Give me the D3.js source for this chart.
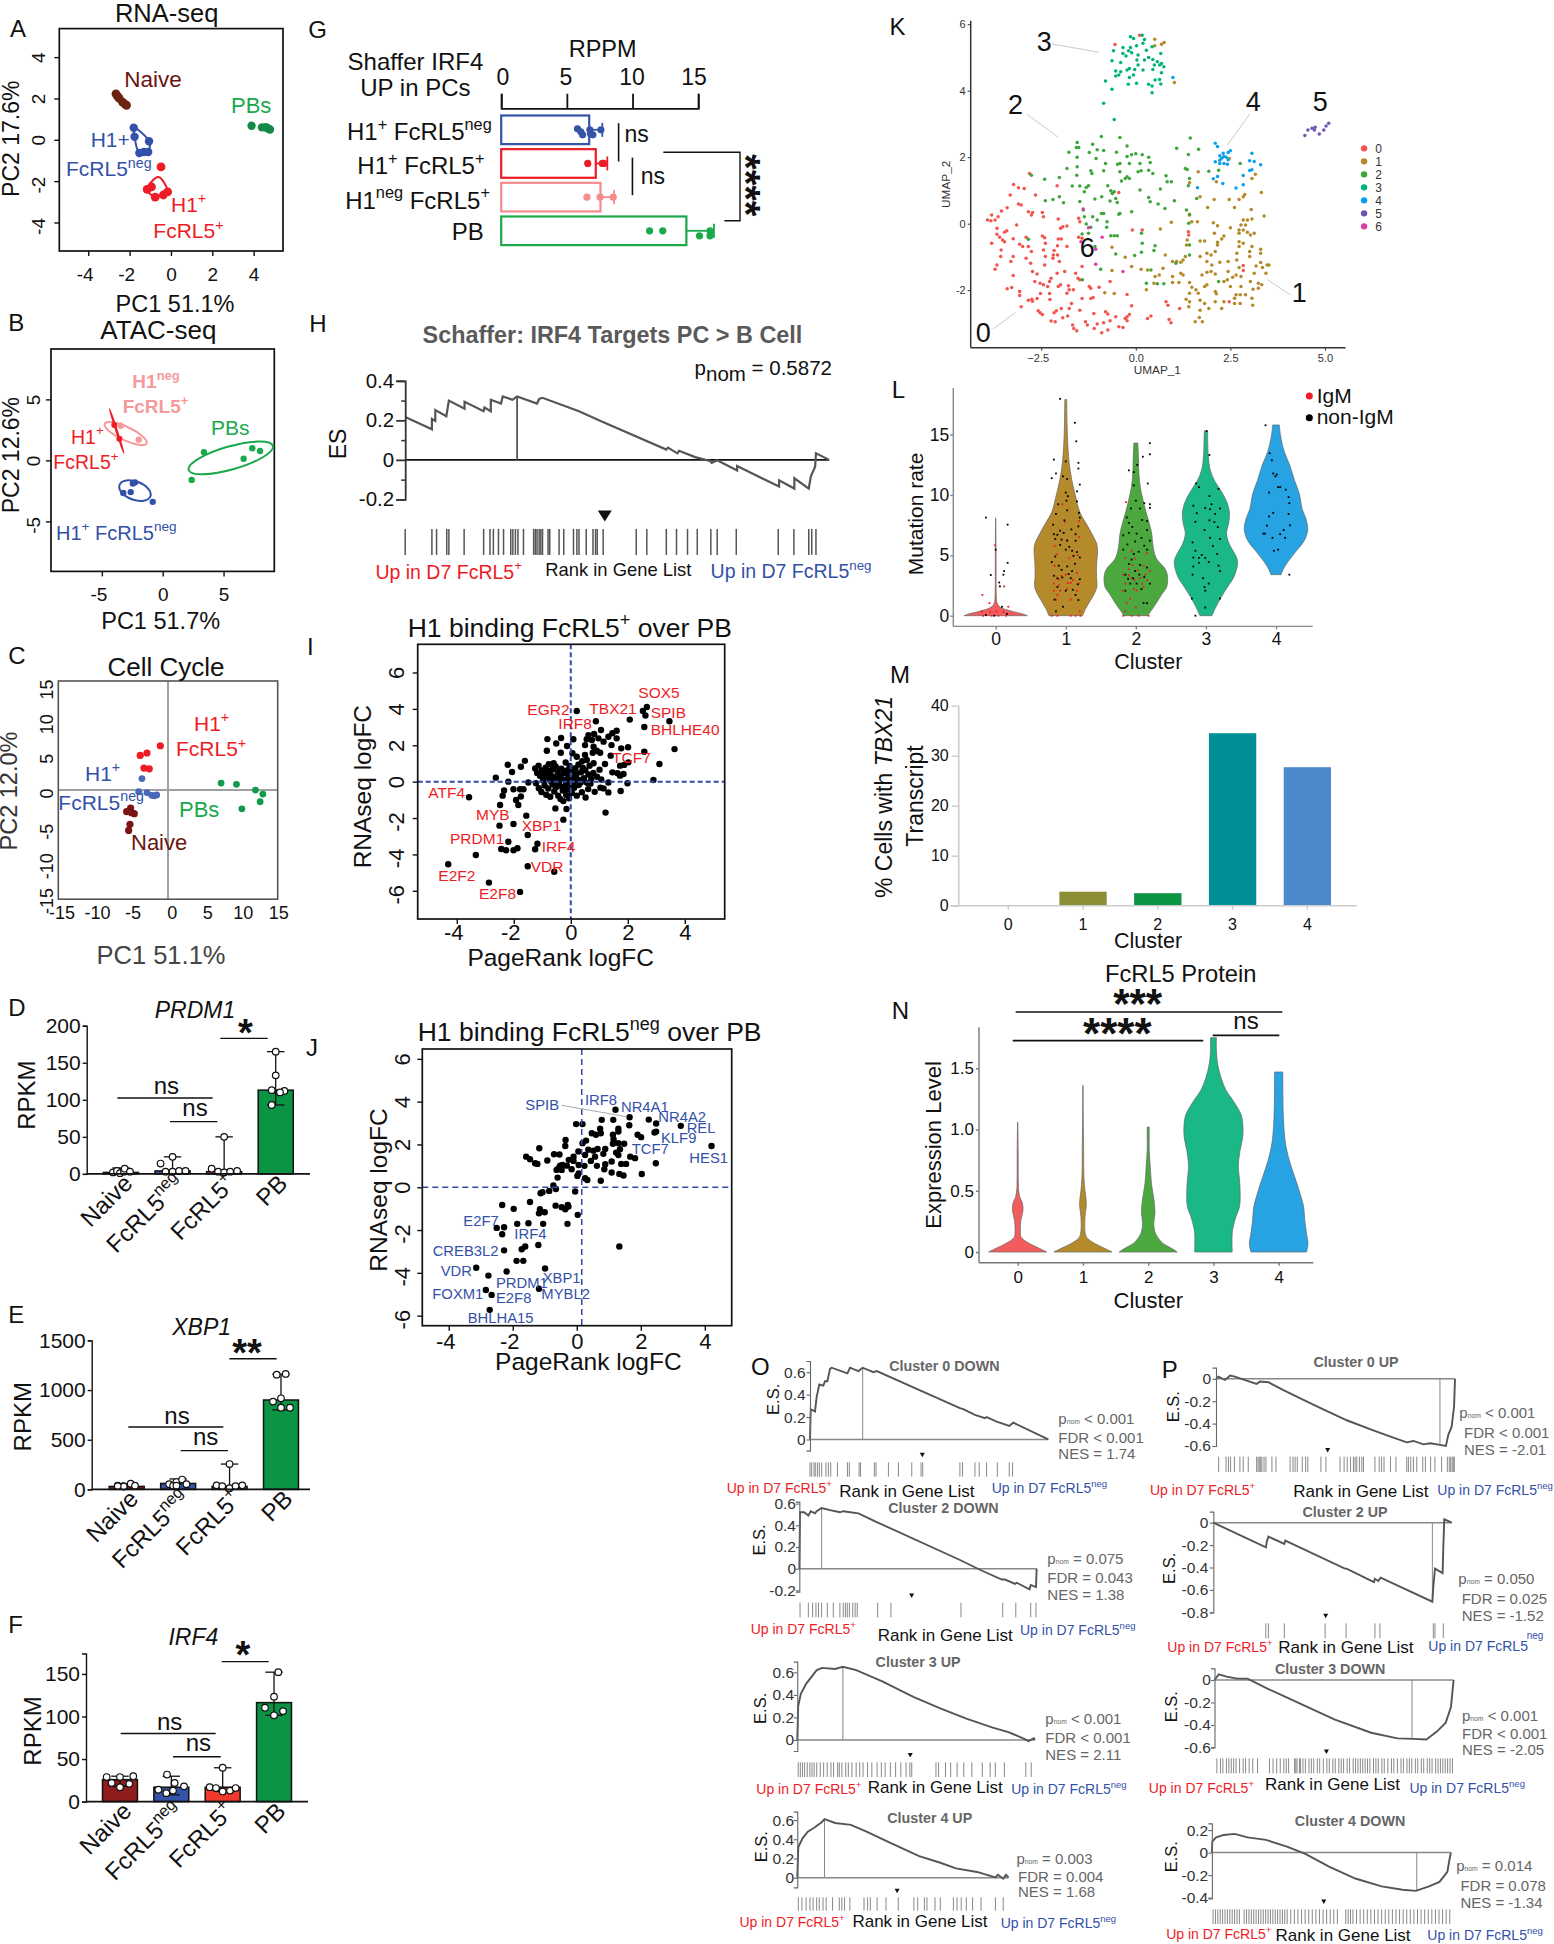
<!DOCTYPE html>
<html><head><meta charset="utf-8">
<script src="https://cdnjs.cloudflare.com/ajax/libs/d3/7.8.5/d3.min.js"></script>
<style>html,body{margin:0;padding:0;background:#fff}svg{display:block}text{font-family:"Liberation Sans",Arial,sans-serif}</style>
</head><body><script>
// ---------- DATA ----------
const aNaive=[[-2.66,2.22],[-2.58,2.1],[-2.5,2.0],[-2.34,1.82],[-2.22,1.72],[-2.15,1.67]];
const aNeg=[[-1.8,.58],[-1.76,.15],[-1.06,-.07],[-1.53,-.64],[-1.31,-.59],[-1.1,-.59]];
const aPos=[[-.48,-1.31],[-1.15,-2.4],[-.94,-2.28],[-.76,-2.77],[-.37,-2.67],[-.16,-2.52]];
const aPB=[[3.9,.68],[4.4,.6],[4.55,.6],[4.62,.6],[4.7,.55],[4.79,.5]];
const bNeg=[[-2.27,-1.8],[-3.24,-2.67],[-2.63,-2.6],[-.82,-3.4],[-2.45,-1.9]];
const bPB=[[3.39,.67],[2.38,-1.6],[7.36,1],[8,.77],[6.65,.13]];
const bH1neg=[[-3.45,2.84],[-1.97,1.7]];
const bPos=[[-3.98,2.9],[-3.56,1.77]];
const bEllipses=[[-2.28,-2.48,1.35,.75,20],[-3.04,2.2,1.9,.55,25],[5.59,.2,3.6,.95,-16],[-3.78,2.4,1.9,.04,72]];
const cPos=[[-1.05,6.1],[-3.8,4.77],[-2.88,5.1],[-3.29,3.03],[-2.56,2.92]];
const cNeg=[[-3.56,1.58],[-4.01,-.22],[-2.88,-.34],[-2.23,-.72],[-1.87,-.78],[-1.55,-.67]];
const cPB=[[7.26,.96],[9.36,.79],[11.96,0],[12.97,-.55],[12.6,-1.6],[10.1,-2.57]];
const cNaive=[[-5.66,-2.96],[-5.11,-2.46],[-4.61,-3.24],[-5.2,-4.7],[-5.38,-5.54],[-5,-3.1]];
const barCats=['Naive','FcRL5^{neg}','FcRL5^{+}','PB'];
const dMeans=[2,4,3,113],eMeans=[30,60,30,900],fMeans=[26,17,17,117];
const dDots=[[2,4,1,3,7,3],[14,3,23,3,4,4],[7,3,50,2,3,4],[113,93,165,133,112,110]];
const eDots=[[37,33,29,58,37,33],[53,37,74,37,99,53],[41,33,255,12,33,41],[1155,884,917,822,1163,822]];
const fDots=[[29,22,29,17,21,30],[14,10,32,22,13,18],[17,16,40,12,13,16],[153,124,111,107,102]];
const dErr=[[0,8],[0,23],[0,50],[93,165]],eErr=[[0,50],[0,105],[0,255],[800,1160]],fErr=[[18,30],[8,30],[12,40],[102,153]];
const gCats=['H1^{+} FcRL5^{neg}','H1^{+} FcRL5^{+}','H1^{neg} FcRL5^{+}','PB'];
const gMeans=[6.7,7.2,7.56,14.1];
const gDots=[[5.81,6.06,6.2,6.75,6.98,7.59,6.8],[6.59,7.81,7.7],[6.53,7.53,8.53],[11.3,12.3,15.1,15.9,15.9]];
const gEnds=[7.7,8.08,8.6,16.2];
const hCurve=[[0,.217],[6.3,.155],[6.3,.207],[7.1,.197],[7.1,.252],[9.7,.221],[10.3,.3],[14,.259],[14,.294],[18.5,.246],[18.7,.265],[20.2,.246],[20.2,.304],[22.6,.285],[23,.321],[25.3,.304],[26.4,.321],[31.1,.285],[31.6,.308],[32.4,.314],[41,.246],[46.1,.197],[61.6,.052],[62,.062],[64.2,.033],[64.6,.046],[68.4,.014],[71.9,-.006],[72.3,-.015],[73.6,-.002],[78.3,-.054],[78.3,-.031],[88.2,-.135],[88.2,-.103],[91.8,-.145],[91.8,-.093],[95.2,-.145],[95.7,-.083],[96.7,-.035],[96.9,.033],[100,0]];
const hRug=[0,6.3,7.4,9.8,10.3,13.9,18.5,20,20.8,22,23.2,24.9,25.4,26,26.6,27.9,30.3,30.7,31.1,31.6,32,32.4,33.7,34.1,36.3,37.4,39.7,40.5,41,42.7,44.3,44.9,45.3,46.7,54.5,57,61.6,64,66.6,68.9,72.1,73.6,78.1,88,91.7,95.2,95.9,96.9];
const iPoints=[[2.67,4.1],[2.53,3.88],[2.62,3.64],[3.46,3.32],[2.58,3],[3.64,1.79],[3.11,.97],[2.9,.09],[2.07,3.41],[.21,3.88],[.88,3.32],[-.82,2.34],[-.34,2.4],[-.51,2.1],[-.84,1.7],[-.13,1.96],[.09,2.33],[-.35,1.59],[.06,1.56],[-3.57,-.86],[-2.63,.22],[-2.21,.93],[-2.06,.53],[-2.19,0],[-1.75,.82],[-1.61,1.14],[-2.34,-.49],[-2.39,-.77],[-2.48,-1.28],[-2.01,-.42],[-1.78,-.42],[-1.66,-.42],[-1.75,-.82],[-1.92,-1.01],[-1.84,-1.28],[-1.49,-.05],[-1.56,-1.87],[-2.5,-2.42],[-2.01,-2.33],[-1.51,-2.93],[-2.19,-3.3],[-1.17,-3.41],[-1.25,-3.72],[-2.44,-3.7],[-2.27,-3.77],[-2.01,-3.77],[-1.87,-3.66],[-3.33,-4.03],[-4.3,-4.54],[-2.87,-5.55],[-1.78,-6.06],[-1.51,-4.65],[-.58,-4.95],[-.54,-1.47],[-.15,-1.5],[-.26,-2.09],[1.22,-1.7],[.62,2.56],[.82,2.62],[1.06,2.84],[1.61,2.8],[1.46,2.66],[1.32,2.47],[1.61,2.38],[.56,2.33],[.74,2.29],[.97,2.38],[1.15,2.2],[1.43,2.01],[1.77,1.83],[2.01,1.89],[2.58,1.65],[.8,1.92],[.5,2.01],[.91,1.7],[.77,1.59],[1.4,1.43],[.5,1.47],[1.03,1.59],[.21,1.37],[.56,1.19],[.8,1.01],[1.2,.97],[1.73,.88],[2.02,1.06],[1.87,.92],[1.46,.51],[1.64,.46],[1.85,.42],[1.73,.33],[1.99,-.09],[1.75,-.51],[1.32,-.05],[1.15,-.37],[1.32,-.59],
[-1.25,.72],[-1.18,.48],[-1.13,.88],[-1.08,.33],[-1.02,.62],[-.98,.18],[-.93,.44],[-.88,.77],[-.84,.29],[-.78,.57],[-.73,.13],[-.71,.41],[-.64,.68],[-.59,.24],[-.53,.83],[-.49,.06],[-.46,.52],[-.38,.28],[-.33,.71],[-.29,.14],[-.24,.47],[-.21,.59],[-.14,.09],[-.09,.36],[-.04,.86],[.02,.21],[.06,.57],[.11,.04],[.16,.74],[.19,.31],[.27,.94],[.32,.08],[.36,.52],[.42,.77],[.46,.19],[.51,.63],[.57,-.06],[.62,.39],[.66,.87],[.72,.16],[.79,.48],[.92,.27],[1.01,.66],[1.07,.12],
[-1.22,-.09],[-1.12,-.36],[-1.03,-.57],[-.92,-.21],[-.86,-.72],[-.79,-.38],[-.72,-.83],[-.63,-.16],[-.58,-.54],[-.52,-.31],[-.44,-.77],[-.41,-.11],[-.36,-.96],[-.28,-.49],[-.26,-1.07],[-.19,-.24],[-.16,-.74],[-.11,-.44],[-.06,-.91],[.01,-.16],[.04,-.62],[.12,-.34],[.21,-.77],[.28,-.19],[.39,-.58],[.52,-.87],[.61,-.41],[.69,-.11],[.84,-.56],[1.04,-.33],[-.95,.05],[-.68,-.02],[-.41,.02],[-.17,.0],[.08,-.08],[.35,-.04],[-.77,.96],[-.6,1.02],[-.18,1.05],[.4,1.12],[-.3,-.3],[-.55,-.03],[.17,.44],[-.1,.63]];
const iGenes=['SOX5','EGR2','TBX21','SPIB','IRF8','BHLHE40','TCF7','ATF4','MYB','XBP1','PRDM1','IRF4','VDR','E2F2','E2F8'];
const jPoints=[[1.21,3.62],[1.65,3.27],[2.25,3.16],[2.48,2.98],[3.25,2.87],[1.64,2.9],[.78,3.15],[1.14,3.15],[-.02,2.95],[.18,2.95],[.73,2.73],[.47,2.52],[.6,2.45],[.75,2.52],[1.3,2.73],[1.3,2.6],[1.13,2.45],[1.15,2.24],[1.9,2.45],[2.01,2.34],[2.43,2.56],[2.48,2.6],[-.35,2.21],[-.36,1.93],[.29,2.18],[.18,2.06],[-1.17,1.82],[4.21,1.93],[1.13,2.03],[1.3,2.06],[1.48,2.03],[1.35,1.78],[1.23,1.62],[.65,1.79],[.89,1.79],[.36,1.75],[.05,1.67],[.52,1.71],[.26,1.51],[.83,1.56],[.57,1.43],[1.67,1.43],[1.82,1.36],[1.3,1.51],[-1.58,1.43],[-1.46,1.31],[-1.3,1.12],[-1.23,1.09],[-.92,1.25],[-.71,1.54],[-.54,1.53],[-.1,1.43],[-.25,1.28],[-.1,1.23],[-.63,.81],[-.52,1.01],[-.44,1.04],[-.31,1.01],[-.16,.84],[-.57,.89],[-.47,.81],[.06,1.04],[.24,1],[.44,1.23],[.63,1],[.89,1.08],[1.09,1.2],[1.39,1.09],[1.54,1.09],[2.47,1.12],[.86,.84],[1.09,.69],[1.33,.62],[1.46,.55],[2.03,.62],[.06,.65],[.02,.53],[.26,.42],[.33,.34],[.75,.3],[-.6,.45],[-.73,.08],[-.65,-.08],[-.86,-.17],[-1.07,-.23],[-1.13,-.28],[-.05,-.2],[-1.46,-.69],[-2.33,-.83],[-1.97,-1.01],[-.66,-.86],[-.47,-.93],[-.28,-.83],[-.26,-.9],[-.36,-1.03],[-1.15,-1.03],[-1,-1.17],[-1.18,-1.22],[.03,-1.29],[-1.51,-1.68],[-1.05,-1.71],[-1.86,-1.71],[-.29,-1.71],[-2.5,-1.9],[-2.27,-1.87],[-2.33,-2.2],[-1.2,-2.7],[-1.61,-2.77],[-1.72,-2.9],[-2.27,-2.95],[-1.88,-3.44],[-1.67,-3.44],[1.33,-2.77],[-3.14,-3.76],[-2.19,-3.94],[-.99,-3.8],[-2.76,-4.13],[-2.84,-4.8],[-1.18,-4.74],[-2.66,-5.03],[-2.72,-5.73]];
const jGenes=['SPIB','IRF8','NR4A1','NR4A2','REL','KLF9','TCF7','HES1','E2F7','IRF4','CREB3L2','VDR','PRDM1','XBP1','FOXM1','E2F8','MYBL2','BHLHA15'];
const k0=[[-3.92,.11],[-3.81,.26],[-3.83,.09],[-3.72,.11],[-3.64,.21],[-3.55,.38],[-3.4,.48],[-3.32,.86],[-3.23,1.18],[-3.1,1.08],[-2.95,1.06],[-3.1,.59],[-3.03,.56],[-2.81,1.51],[-2.65,.86],[-2.08,1.14],[-2.84,.36],[-2.73,.34],[-2.76,.26],[-2.47,.34],[-2.44,.21],[-2.05,.14],[-1.93,-.09],[-1.99,-.14],[-1.82,-.07],[-1.51,.16],[-1.48,.06],[-3.67,-.14],[-3.67,-.32],[-3.6,-.41],[-3.52,-.49],[-3.47,-.26],[-3.41,-.21],[-3.81,-.59],[-3.47,-.54],[-3.56,-.79],[-3.57,-.99],[-3.67,-1.24],[-3.72,-1.37],[-3.24,-.45],[-3.15,-.04],[-3.07,-.62],[-2.99,-.69],[-3.24,-.99],[-3.3,-1.14],[-3.24,-1.56],[-2.9,-.41],[-2.84,-.69],[-2.76,-.84],[-2.9,-1.04],[-2.78,-1.19],[-2.73,-1.44],[-2.61,-1.51],[-2.67,-1.74],[-2.47,-.37],[-2.41,-.42],[-2.39,-.59],[-2.44,-.79],[-2.39,-.99],[-2.41,-1.24],[-2.53,-1.79],[-2.44,-1.84],[-2.28,-1.74],[-2.33,-1.89],[-2.05,-.46],[-1.97,-.46],[-2.07,-.66],[-2.16,-.81],[-2.18,-.94],[-2.07,-.94],[-2.19,-1.04],[-2.02,-1.14],[-2.08,-1.49],[-1.88,-1.44],[-2.24,-1.64],[-2.05,-1.89],[-1.82,-.69],[-1.51,-.41],[-1.42,-.44],[-1.42,-1.29],[-1.59,-1.49],[-1.53,-1.64],[-1.48,-1.69],[-1.99,-1.84],[-1.78,-1.87],[-1.76,-1.99],[-1.82,-2.09],[-1.65,-1.99],[-1.23,-1.89],[-1.19,-1.94],[-.97,-1.91],[-.68,-1.74],[-3.4,-1.96],[-3.28,-1.92],[-3.07,-2.04],[-3.07,-2.16],[-3.03,-2.5],[-2.84,-2.3],[-2.75,-2.27],[-2.73,-2.33],[-2.61,-2.25],[-2.52,-2.1],[-2.28,-2.1],[-2.27,-2.28],[-2.58,-2.62],[-2.53,-2.68],[-2.47,-2.73],[-2.16,-2.68],[-2.1,-2.62],[-1.97,-2.55],[-1.76,-2.55],[-2.24,-2.93],[-2.13,-2.95],[-1.93,-2.83],[-1.8,-2.78],[-1.7,-2.4],[-1.48,-2.6],[-1.42,-2.25],[-1.19,-2.25],[-1.13,-2.22],[-1.67,-3.05],[-1.64,-3.15],[-1.56,-3.22],[-1.33,-2.95],[-1.28,-3.05],[-1.11,-2.7],[-1.1,-3.15],[-1.02,-3.02],[-.9,-3.28],[-.85,-2.98],[-.74,-3.2],[-.8,-2.65],[-.74,-2.72],[-.53,-2.8],[-.68,-2.92],[-.45,-3.1],[-.34,-3.12],[-.28,-2.85],[-.23,-2.8],[-.17,-2.73],[-.23,-2.92],[-.11,-2.47],[-.23,-2.13],[.31,-2.85],[.4,-2.78],[.88,-2.88],[.93,-2.98],[.8,-2.35],[.85,-2.45],[1.16,-2.55],[1.39,-.24],[1.4,-.34],[-.09,-.19],[.17,-.19],[-.45,.94],[2.84,-1.26],[2.84,-1.41],[2.47,-2.35],[-.55,5.39],[.1,5.67]];
const k1=[[1.65,1.56],[1.42,1.23],[1.7,.81],[1.9,.49],[2.07,.73],[2.13,1.26],[2.47,.73],[2.61,.49],[2.73,.73],[2.84,.81],[2.88,.88],[3.32,.94],[3.16,1.49],[3.07,1.36],[2.47,1.96],[1.42,.28],[1.48,.06],[1.63,.06],[.94,.04],[.65,-.16],[2.05,.03],[2.16,-.06],[2.84,.11],[2.95,.11],[3.07,.14],[3.05,.43],[3.39,.23],[2.78,-.04],[2.9,-.04],[2.5,-.12],[2.73,-.19],[2.84,-.19],[2.73,-.29],[2.95,-.26],[3.13,-.29],[3.03,-.34],[2.33,-.37],[2.27,-.46],[2.08,-.29],[2.16,-.56],[1.7,-.52],[1.82,-.52],[1.36,-.49],[1.34,-.64],[2.73,-.54],[2.84,-.59],[2.16,-.64],[3.07,-.69],[2.73,-.69],[3.3,-.77],[3.3,-.89],[3.01,-.84],[2.1,-.84],[1.88,-.89],[1.99,-.94],[2.67,-.89],[3.01,-.99],[1.7,-.99],[1.31,-.99],[1.25,-1.09],[.78,-.94],[.97,-1.14],[1.08,-1.14],[1.19,-1.16],[1.88,-1.14],[2.01,-1.24],[2.22,-1.16],[2.44,-1.14],[2.67,-1.09],[2.73,-1.32],[3.3,-1.17],[3.47,-1.24],[3.52,-1.24],[3.18,-1.27],[3.35,-1.32],[2.44,-1.44],[1.99,-1.44],[1.88,-1.46],[1.75,-1.54],[2.1,-1.51],[2.56,-1.61],[2.65,-1.54],[2.78,-1.59],[3.13,-1.49],[3.44,-1.49],[1.19,-1.49],[1.25,-1.54],[.62,-1.54],[.72,-1.34],[.51,-1.59],[.48,-1.79],[.28,-1.99],[.97,-1.59],[.97,-1.77],[1.14,-1.77],[1.42,-1.77],[1.48,-1.91],[1.59,-1.99],[1.82,-1.89],[1.88,-1.84],[2.1,-2.04],[2.13,-2.11],[2.33,-1.74],[2.42,-1.69],[2.5,-1.89],[2.78,-1.89],[3.03,-1.74],[3.24,-1.79],[3.33,-1.84],[3.24,-1.94],[3.1,-1.97],[2.9,-2.14],[3.07,-2.24],[2.76,-2.14],[2.61,-2.24],[2.65,-2.14],[1.42,-2.09],[1.33,-2.27],[1.42,-2.35],[1.4,-2.5],[1.65,-2.09],[1.7,-2.3],[1.82,-2.4],[1.7,-2.6],[1.93,-2.55],[2.1,-2.35],[2.27,-2.55],[2.33,-2.35],[2.61,-2.4],[2.76,-2.4],[3.09,-2.45],[1.68,-2.82],[1.76,-2.95],[1.57,-2.95],[-.57,-2.1],[-.82,-2.08],[-.28,-1.01],[-.11,-1.29],[.14,-1.37],[.31,-1.39],[-.63,-1.41],[-.63,-.71],[.5,5.55],[.75,5.45],[.5,5.35],[.68,5.4],[1.02,4.25]];
const k2=[[-2.76,1.46],[-2.41,1.34],[-2.02,1.39],[-2.39,.69],[-2.19,.73],[-2.02,.81],[-1.91,.63],[-1.82,1.66],[-1.77,2.15],[-1.55,2.44],[-1.57,2.29],[-1.51,2.29],[-1.55,2],[-1.55,1.71],[-1.56,1.46],[-1.68,1.13],[-1.48,1.13],[-1.23,2.14],[-1.14,2.39],[-1.02,2.22],[-.91,2.62],[-.85,2.2],[-.42,2.59],[-.51,2.15],[-.23,2.34],[-1.05,1.96],[-.8,1.81],[-1.19,1.59],[-1.16,1.51],[-.85,1.59],[-.48,1.79],[-.42,1.81],[-.42,1.56],[-.23,2.02],[-.11,2.07],[0,2.1],[.17,2.07],[.34,2],[-.17,1.81],[.11,1.81],[.38,1.84],[.06,1.56],[.14,1.59],[.34,1.61],[.45,1.51],[-.23,1.41],[-.38,1.28],[-.28,1.36],[-.17,1.36],[.8,1.44],[.83,1.26],[.94,1.26],[.65,1.04],[.11,1.01],[1.08,2.27],[1.44,2.58],[1.66,2.24],[1.39,2.08],[1.31,1.66],[1.36,1.63],[1.42,1.36],[1.39,1.14],[1.61,.76],[1.93,1.58],[2.19,1.61],[2.76,1.81],[-1.31,1.09],[-1.36,.96],[-1.25,1.14],[-1.48,.67],[-1.08,.74],[-.9,.81],[-.74,1.14],[-.66,.99],[-.62,.91],[-.57,.96],[-.53,.76],[-.68,.68],[-.49,.64],[-1.39,.41],[-1.14,.21],[-1.36,.21],[-.91,.31],[-.85,.31],[-.45,.28],[-.42,.31],[-.11,.36],[.34,.79],[.38,.66],[.59,.59],[.77,.46],[1.02,.69],[1.34,.41],[1.42,.26],[1.4,.01],[-.76,.06],[-.77,-.11],[-1.02,.11],[-1.31,-.01],[-1.19,-.11],[-1.42,-.31],[-1.25,-.29],[-.66,-.36],[-.57,-.36],[-.49,-.36],[.15,-.29],[.17,-.59],[.51,-.66],[.48,-.81],[.15,-.86],[-.03,-.96],[-.53,-.91],[-1.08,-.69],[-.93,-1.37],[-1.41,-1.69],[-2.84,-.47],[.28,-1.79],[.57,-1.81],[.74,-1.81],[2.19,-1.74],[1.06,-1.19],[.4,-1.39],[1.42,-.64],[1.42,-.94]];
const k3=[[-.14,5.62],[-.06,5.57],[.17,5.67],[.23,5.54],[.02,5.35],[.19,5.43],[-.34,5.3],[-.14,5.3],[-.19,5.2],[.28,5.22],[.43,5.32],[.66,5.12],[-.59,5.2],[-.34,5.12],[-.11,5.14],[.06,5.07],[-.26,5.04],[.03,4.92],[.23,4.92],[.34,5],[.45,4.94],[.57,4.87],[.68,4.82],[.74,4.72],[.63,4.77],[-.63,4.9],[-.4,4.85],[-.17,4.67],[-.03,4.64],[.06,4.77],[.19,4.62],[.45,4.64],[.68,4.54],[-.53,4.59],[-.45,4.47],[-.23,4.62],[-.17,4.4],[-.06,4.47],[.51,4.32],[.63,4.34],[.02,4.22],[-.2,4.19],[.34,4.19],[.43,4.14],[.66,4.2],[.43,3.94],[-.8,4.29],[-.63,4.04],[-.85,3.62],[-.57,3.13],[-.53,4.44],[-.4,4.57],[.49,4.77]];
const k4=[[2.1,2.42],[2.16,2.32],[2.5,2.19],[2.44,2.14],[2.31,2.12],[2.22,2.04],[2.33,2.02],[2.1,1.86],[2.22,1.81],[2.33,1.81],[2.44,1.92],[2.42,1.79],[2.27,1.97],[3.07,2.12],[3.01,1.89],[3.13,1.87],[3.3,1.77],[3.07,1.62],[3.01,1.6],[2.05,1.35],[2.16,1.42],[2.3,1.21],[2.84,1.45],[2.84,1.17],[2.65,1.07],[1.63,1.08],[2.39,2],[2.22,1.91],[.98,4.4]];
const k5=[[4.47,2.65],[4.55,2.82],[4.66,2.87],[4.74,2.9],[4.85,2.7],[4.97,2.82],[5.03,2.94],[5.1,3.02],[4.72,2.82]];
const k6=[[-1.39,.44],[-1.25,-.12],[-.89,-.41],[-1.45,-.54],[-1.06,-.77],[-1.06,-1.22],[-.34,-1.44]];
const kClusters=[k0,k1,k2,k3,k4,k5,k6];
const kNames=['0','1','2','3','4','5','6'];
const lViolins=[
[[0,1],[.15,.85],[.3,.6],[.44,.42],[.6,.22],[.8,.1],[1.1,.04],[2,.016],[4,.013],[6,.01],[8.1,.004]],
[[0,.53],[.59,.63],[1.18,.76],[1.78,.89],[2.37,.98],[3.25,.97],[4.14,.97],[5.33,1],[5.92,.98],[6.8,.82],[7.69,.63],[8.58,.44],[9.76,.32],[11.24,.19],[12.72,.105],[14.2,.063],[15.98,.04],[17.9,.03]],
[[0,.37],[.59,.53],[1.18,.68],[1.78,.82],[2.37,.97],[3.25,1],[3.85,.93],[4.73,.65],[5.62,.55],[6.8,.5],[7.69,.42],[8.58,.32],[9.76,.21],[10.65,.14],[11.83,.095],[13,.084],[14.3,.063]],
[[0,.19],[.59,.29],[1.48,.47],[2.37,.68],[3.25,.89],[4.44,1],[5.03,.93],[5.92,.74],[6.8,.65],[7.69,.72],[8.58,.74],[9.47,.65],[10.36,.47],[11.24,.26],[12.13,.13],[13.3,.074],[15.3,.053]],
[[3.4,.16],[3.85,.23],[4.44,.37],[5.33,.63],[6.21,.89],[7.1,1],[7.99,.95],[8.88,.82],[10.06,.74],[11.24,.58],[12.43,.44],[13.6,.26],[14.8,.15],[15.8,.105]]];
const lBlack=[
[[-.14,8.13],[.17,7.54],[0,5.47],[-.07,3.37],[.11,3.4],[.12,3.7],[.17,4.38],[.05,2.75],[.06,2.43],[-.14,.06],[-.02,0],[.16,.15],[.09,.74]],
[[-.08,17.96],[.13,15.98],[.15,14.44],[0,12.78],[-.17,12.93],[.18,12.66],[.18,12.19],[-.14,11.78],[-.2,11.39],[-.04,11.54],[.02,11.33],[.2,10.86],[.16,10.3],[0,10.2],[.03,9.9],[.16,9.47],[-.11,9.23],[.01,9.53],[-.14,8.43],[.19,8.52],[.02,8.73],[.2,8.13],[-.18,7.54],[.18,7.4],[-.08,7.04],[-.03,6.86],[-.17,6.75],[-.15,6.36],[.02,6.21],[.14,6.21],[-.08,5.86],[0,5.47],[.09,5.38],[.16,5.27],[.2,4.82],[-.2,4.44],[-.1,4.14],[.02,4.08],[.09,3.7],[-.17,3.31],[-.05,3.17],[.07,3.11],[.2,3.02],[-.12,2.37],[0,2.07],[.14,1.72],[-.16,1.33],[-.04,.74],[-.14,.36],[-.12,6.7],[-.06,6.3],[.05,5.7],[.11,4.95],[-.15,4.9],[.13,4.3],[-.06,3.8],[.04,3.45],[-.12,3.1],[.17,2.6],[.1,2.15],[.18,1.3],[-.02,7.9],[.08,7.15],[.14,6.75]],
[[.2,14.29],[.2,13.37],[.1,13.17],[-.1,12.04],[-.03,11.89],[.02,12.49],[.17,10.95],[-.03,10.8],[0,9.53],[.12,9.32],[.2,8.93],[.2,9.23],[-.07,8.88],[.06,8.88],[-.13,8.14],[-.1,7.69],[.09,7.93],[.16,7.84],[-.18,6.66],[-.1,6.86],[.01,6.8],[.16,7.1],[-.01,6.15],[.2,6.21],[-.18,5.47],[-.03,5.12],[.16,5.47],[-.1,4.29],[.06,4.2],[-.01,3.7],[.16,3.99],[-.15,3.4],[.05,3.4],[.2,2.66],[-.08,2.66],[.01,2.66],[.11,1.04],[.16,1.04],[-.15,2.07],[-.05,7.35],[.08,6.45],[.12,5.8],[-.12,5.9],[.04,5.3],[-.06,4.65],[.12,3.2],[-.11,3.05],[.08,2.2],[-.04,3.1]],
[[.01,15.3],[.05,13.31],[-.14,10.95],[-.1,10.65],[.18,10.5],[.05,9.91],[-.18,9.11],[-.01,8.93],[.08,9.23],[.06,8.82],[.2,8.88],[-.13,8.49],[.13,8.43],[-.15,7.78],[.05,7.9],[.12,7.75],[.17,7.34],[-.02,7.1],[.06,6.45],[.2,6.36],[-.19,6.07],[.1,5.77],[-.15,5.38],[-.18,4.82],[-.06,5.03],[.16,5.12],[-.1,4.79],[-.01,4.79],[-.18,4.08],[-.1,4.38],[.04,4.44],[.18,4.14],[.2,3.7],[-.19,3.4],[-.04,3.11],[.04,2.66],[-.02,2.37],[-.01,2.07],[-.2,1.42],[.2,1.42],[-.01,.68],[-.15,0]],
[[-.15,15.77],[-.09,13.46],[-.06,12.87],[-.04,11.78],[.01,11.69],[-.01,11.54],[.03,10.65],[-.1,10.2],[.06,10.65],[.14,10.44],[.18,9.82],[.19,9.32],[-.04,8.52],[-.1,8.22],[.18,8.43],[-.13,7.46],[.2,7.49],[.11,7.1],[-.18,6.8],[-.16,6.8],[.06,6.75],[-.05,6.45],[.13,6.45],[-.03,5.38],[.03,5.47],[.19,3.4]]];
const lRed=[
[[-.01,5.83],[-.19,1.72],[.12,2.43],[-.09,1.04],[.18,.74],[-.2,.36],[-.08,.3],[.01,.36],[.11,.3],[.15,0],[-.18,0],[-.06,0],[.04,0]],
[[-.05,9.23],[-.01,7.75],[.19,7.84],[-.16,5.77],[.02,6.27],[.19,6.5],[.17,5.03],[-.16,4.14],[-.1,3.02],[.16,3.55],[0,3.4],[-.17,2.66],[-.1,2.51],[.07,2.72],[.19,2.66],[-.08,2.07],[.02,2.22],[.16,2.07],[-.17,2.07],[-.14,1.33],[.07,1.33],[.2,.36],[-.2,0],[-.12,0],[.07,0],[.14,0],[.21,0],[-.13,5.1],[.05,4.75],[-.06,3.3],[.1,2.95],[.03,2.7],[-.12,1.7]],
[[-.14,9.41],[-.06,5.38],[.16,5.18],[-.15,4.79],[-.01,4.73],[.11,4.14],[-.1,3.85],[.2,3.7],[-.18,3.4],[-.06,3.11],[.06,3.11],[.16,2.96],[-.15,2.66],[-.03,2.22],[.11,2.37],[-.19,2.07],[.01,2.07],[-.08,1.42],[-.13,1.04],[0,.68],[-.15,.36],[-.18,0],[-.06,0],[.04,0],[.18,0],[-.1,3.35],[.03,3.75],[.13,3.4],[-.02,2.95],[.09,2.65],[-.05,4.2]],
[],[]];
const clusterCats=[0,1,2,3,4];
const mValues=[0,2.8,2.5,34.5,27.7];
const nViolins=[
[[0,.99],[.03,.74],[.07,.4],[.1,.2],[.125,.11],[.18,.09],[.26,.11],[.34,.18],[.4,.16],[.45,.07],[.5,.035],[.56,.023],[.83,.017],[1.06,.006]],
[[0,.99],[.03,.74],[.07,.4],[.11,.16],[.15,.08],[.29,.07],[.37,.11],[.42,.11],[.5,.07],[.61,.035],[.83,.023],[1.1,.011],[1.36,.006]],
[[0,.99],[.03,.8],[.07,.51],[.125,.31],[.165,.23],[.23,.19],[.32,.23],[.42,.2],[.56,.11],[.7,.07],[.83,.035],[.94,.035],[1.02,.034]],
[[0,.64],[.15,.64],[.21,.68],[.29,.77],[.37,.89],[.5,.91],[.59,.89],[.7,.85],[.83,.91],[.94,1],[1.05,1],[1.13,.93],[1.24,.66],[1.32,.43],[1.43,.25],[1.54,.14],[1.65,.1],[1.75,.1]],
[[0,.95],[.07,1],[.15,.95],[.26,.89],[.37,.85],[.5,.7],[.61,.55],[.75,.36],[.89,.23],[1.1,.16],[1.47,.14]]];
const o1Curve=[[0,0],[.3,.27],[2.1,.25],[2.8,.38],[3.9,.49],[5.6,.48],[6.3,.52],[7.3,.52],[8.4,.63],[9.1,.64],[15.7,.59],[16.8,.64],[20.3,.61],[22.1,.64],[26.6,.6],[28,.61],[62.9,.28],[64.3,.27],[69.2,.22],[73.4,.19],[74.1,.2],[78.3,.16],[83.6,.12],[85.3,.15],[100,0]];
const o1Rug=[0,.7,1.7,2.2,3.1,3.9,4.9,6.7,7.7,8.7,11.5,15.7,16.5,20.6,21.2,27,27.7,32.9,37.1,42.7,46.6,47.3,62.9,64,69.2,71,74.1,78.6,83.6,85];
const o2Curve=[[0,0],[.3,.52],[2,.52],[3.8,.49],[4.8,.53],[6.6,.51],[7.3,.53],[9.4,.56],[12.9,.54],[17.1,.52],[18.5,.53],[24.9,.51],[32.6,.43],[67.7,.08],[76.1,-.01],[85.3,-.1],[86.7,-.1],[90.9,-.14],[91.6,-.13],[97,-.19],[97.5,-.15],[99.7,-.17],[100,0]];
const o2Rug=[.3,3.8,5.6,7,8.1,9.4,11.8,14.3,17.1,18.5,19.4,20.2,21.1,22.5,23.5,24.4,33,38.6,68.1,85.7,91.2,97.5,99.7];
const o3Curve=[[0,0],[.4,.3],[1.5,.41],[3.8,.5],[6,.56],[8.2,.62],[10.4,.64],[15.9,.63],[19.2,.65],[24.8,.62],[35.8,.52],[49.1,.38],[60.2,.28],[71.2,.19],[82.3,.11],[88.9,.07],[95.6,.01],[97.3,-.01],[99.6,.015],[100,0]];
const o3Rug=[.4,1.3,2.2,3.1,4.2,5.3,6.2,7.1,8.2,9.7,11.1,12.6,14.2,15.3,17,17.7,18.8,20.4,21.5,23,24.8,26.3,27.7,29.6,31.4,33.6,35.4,37,39.2,41.4,43.6,45.8,47.4,48.2,58.4,59.5,62.4,64.6,67.3,70.1,73.5,77.9,81.2,83.4,87.2,96.2,98.5];
const o4Curve=[[0,0],[.5,.32],[2.5,.41],[5,.48],[8,.52],[11.7,.58],[12.9,.61],[17.9,.57],[25.4,.55],[32.8,.48],[42.8,.375],[57.7,.225],[67.7,.156],[75.1,.097],[85.1,.06],[93.8,.003],[95,.03],[97.5,-.01],[98.8,.03],[100,.003]];
const o4Rug=[.5,2.2,4.2,6,7.5,9.2,10.4,12.2,13.7,16.7,19.9,21.1,22.4,24.9,31.6,33.3,34.6,37.8,42,47.8,55.2,57,60.2,61.4,65.2,67.7,73.9,75.6,77.6,80,83,87,93.8,97.5];
const p1Curve=[[0,0],[1,.02],[3.8,-.01],[5.9,.03],[7.9,.02],[12.8,-.015],[17,-.045],[18.4,-.024],[21.9,-.03],[28.2,-.1],[40.7,-.23],[54.7,-.37],[65.8,-.46],[74.2,-.525],[79.8,-.567],[82.6,-.555],[86.8,-.585],[89.6,-.576],[93.7,-.59],[96.2,-.6],[97.2,-.5],[98.6,-.427],[99.6,-.25],[100,0]];
const p1Rug=[1.1,4.2,5.2,6.1,7.7,10,11.4,13.5,17,17.6,18.1,18.7,19.2,20.1,20.9,23.4,25.1,31,32.2,33.1,34,36.1,37.5,38.4,43.9,46,51.9,53.6,54.9,56.3,57.5,58.2,58.9,60,61,61.7,66.5,68.3,69.3,70.3,73,75.3,79.8,80.5,81.5,82.6,84,86.5,87.6,89.8,91.6,94.4,96.8,97.6,98.2,98.8,99.3,99.7];
const p2Curve=[[0,0],[22.1,-.22],[22.4,-.17],[23.1,-.125],[29.8,-.19],[30.2,-.16],[55.2,-.41],[55.9,-.41],[67.4,-.53],[67.8,-.5],[69.2,-.52],[70.2,-.49],[91.9,-.705],[92.3,-.57],[93,-.41],[96.2,-.45],[96.5,-.21],[96.9,.03],[100,0]];
const p2Rug=[22,23.1,29.8,46.9,55.7,67.8,69.9,92.3,93,96.5];
const p3Curve=[[0,0],[1.8,.05],[5.1,.03],[9.5,.012],[13.8,.012],[21.5,-.07],[34.7,-.2],[50.1,-.35],[65.5,-.47],[76.5,-.52],[83.1,-.525],[88.6,-.53],[93,-.46],[96.7,-.38],[98.9,-.24],[100,0]];
const p3Rug=[1,2.5,3.5,5,6,7,8,9,10.5,12,13,14.5,16,18,23,24.5,26,27.5,29,30,31,33.5,34,34.5,35.5,36,37,38,39.5,40.5,41.5,43,44,45.5,47,48,49.5,50.5,52,53,54,55.5,56.5,58,59,60,61,62,63,64,65,66.5,67.5,68.5,70,71,72.5,74,75,76.5,78,79,80.5,81.5,82.5,84,85,86.5,87.5,89,90,91,92.5,93.5,94.5,95.5,96.5,97.5,98.5,99.5];
const p4Curve=[[0,0],[.2,.1],[1.8,.135],[5,.157],[9.5,.166],[14.9,.135],[22.6,.113],[31.4,.053],[39.1,-.012],[49,-.125],[60,-.23],[71,-.3],[79.8,-.33],[85.3,-.34],[90.8,-.3],[95.2,-.26],[98.5,-.17],[99.6,-.035],[100,0]];
const p4Rug=[.5,1.5,2.5,3.5,4.5,5.5,6.5,7.5,8.5,9.5,10.5,11.5,13.5,14.5,15.5,16.5,17.5,18.5,19.5,20.5,21.5,22.5,23.5,24.5,25.5,26.5,27.5,28.5,29.5,30.5,31.5,33,34.5,36,37.5,39,40.5,42,43.5,45,46.5,48,49.5,51,52.5,56,57,58,59,60.5,62,63.5,65,66.5,68,69.5,71,72.5,74,75.5,77,78.5,80,81.5,83,84.5,86,87.5,89,90.5,92,93.5,95,96.5,98,99.5];

// ---------- HELPERS ----------
const RED='#ee1c25',BLUE='#3351a8',GREEN='#1aa84b',BROWN='#6b1410',SALMON='#f59a9a',GRAY='#666';
const svg=d3.select('body').append('svg').attr('width',1554).attr('height',1944);
svg.append('rect').attr('width',1554).attr('height',1944).attr('fill','#fff');
const ZT={1:[0,0,3,2.45],2:[0,640,3,2.45],3:[0,1280,3,2.45],4:[310,0,2.751,2.613],5:[310,600,3,3],6:[340,1000,3,3],7:[880,0,2.326,3],8:[880,380,3,2.8],9:[880,950,3,3],10:[740,1340,3,3],11:[1140,1340,3,3],12:[730,1640,1.903,3]};
const zx=(i,x)=>ZT[i][0]+x/ZT[i][2], zy=(i,y)=>ZT[i][1]+y/ZT[i][3];
function rich(t,str,fs,o){
  const re=/([\^_~*])\{(.*?)\}/g;let last=0,m,back=0;
  const add=(s,dy,size,it)=>{const ts=t.append('tspan').text(s);if(dy)ts.attr('dy',dy);if(size)ts.attr('font-size',size);if(it)ts.attr('font-style','italic');};
  while((m=re.exec(str))){
    if(m.index>last){add(str.slice(last,m.index),back);back=0;}
    if(m[1]==='^'){const d=-(o.supUp||.42)*fs;add(m[2],d+back,fs*.68);back=-d;}
    else if(m[1]==='_'){const d=.3*fs;add(m[2],d+back,fs);back=-d;}
    else if(m[1]==='~'){add(m[2],back,fs*.45);back=0;}
    else{add(m[2],back,fs,true);back=0;}
    last=m.index+m[0].length;
  }
  if(last<str.length)add(str.slice(last),back);
}
function txt(x,y,str,o={}){
  const fs=o.fs||20;
  const t=svg.append('text').attr('transform',`translate(${x},${y})`+(o.rot?` rotate(${o.rot})`:''))
    .attr('font-size',fs).attr('fill',o.fill||'#111').attr('text-anchor',o.anchor||'start');
  if(o.bold)t.attr('font-weight','bold');if(o.italic)t.attr('font-style','italic');
  rich(t,str,fs,o);return t;
}
const lab=(i,x,y,str,o)=>txt(zx(i,x),zy(i,y),str,o);
function seg(x1,y1,x2,y2,c='#111',w=1.5,dash){const l=svg.append('line').attr('x1',x1).attr('y1',y1).attr('x2',x2).attr('y2',y2).attr('stroke',c).attr('stroke-width',w);if(dash)l.attr('stroke-dasharray',dash);return l;}
const zseg=(i,a,b,c,d,col,w)=>seg(zx(i,a),zy(i,b),zx(i,c),zy(i,d),col,w);
function box(x0,y0,x1,y1,c='#111',w=1.7){svg.append('rect').attr('x',x0).attr('y',y0).attr('width',x1-x0).attr('height',y1-y0).attr('fill','none').attr('stroke',c).attr('stroke-width',w);}
const negShift=d=>d<0?-3.5:0;
function axX(scale,y,ticks,o){
  const g=svg.append('g').attr('transform',`translate(0,${y})`).call(d3.axisBottom(scale).tickValues(ticks).tickSize(o.size==null?5:o.size).tickFormat(o.fmt||String));
  if(!o.domain)g.select('.domain').remove();
  g.selectAll('line,path').attr('stroke',o.color||'#111').attr('stroke-width',o.sw||1.4);
  g.selectAll('text').attr('font-size',o.fs).attr('fill',o.tc||'#111').attr('dy',0).attr('y',o.base).attr('font-family','Liberation Sans').attr('dx',d=>negShift(d));
  return g;
}
function axY(scale,x,ticks,o){
  const g=svg.append('g').attr('transform',`translate(${x},0)`).call(d3.axisLeft(scale).tickValues(ticks).tickSize(o.size==null?5:o.size).tickPadding(o.pad==null?3:o.pad).tickFormat(o.fmt||String));
  if(!o.domain)g.select('.domain').remove();
  g.selectAll('line,path').attr('stroke',o.color||'#111').attr('stroke-width',o.sw||1.4);
  g.selectAll('text').attr('font-size',o.fs).attr('fill',o.tc||'#111').attr('font-family','Liberation Sans');
  if(o.rot)g.selectAll('text').attr('transform','rotate(-90)').attr('x',0).attr('dy',0).attr('y',-o.base).attr('text-anchor','middle').attr('dx',d=>negShift(d));
  return g;
}
function dots(data,x,y,r,fill){return svg.append('g').selectAll('circle').data(data).join('circle').attr('cx',d=>x(d[0])).attr('cy',d=>y(d[1])).attr('r',r).attr('fill',fill);}
const tri=(cx,cy,w,h)=>svg.append('path').attr('d',d3.line()([[cx-w/2,cy-h/2],[cx+w/2,cy-h/2],[cx,cy+h/2]])+'Z').attr('fill','#111');

// ---------- PANEL LETTERS ----------
const letters=[['A',1,30,90],['B',1,25,810],['C',2,25,60],['D',2,25,920],['E',3,25,105],['F',3,25,865],['G',4,-5,98],['H',4,-2,868],['K',7,22,105],['L',8,35,50],['M',8,30,848],['N',9,35,208],['O',10,33,105],['P',11,65,115]];
letters.forEach(d=>lab(d[1],d[2],d[3],d[0],{fs:24}));
txt(307,655,'I',{fs:24});txt(306,1056,'J',{fs:24});

// ---------- A ----------
{const x=d3.scaleLinear([-5.4,5.42],[59.3,283]),y=d3.scaleLinear([-5.38,5.38],[251,28.6]);
 box(59.3,28.6,283,251);
 axX(x,251,[-4,-2,0,2,4],{fs:19,base:30,size:5});
 axY(y,59.3,[-4,-2,0,2,4],{fs:19,rot:true,base:14,size:5});
 const hull=(pts,c)=>svg.append('path').attr('d',d3.line().curve(d3.curveCatmullRomClosed)(d3.polygonHull(pts).map(d=>[x(d[0]),y(d[1])]))).attr('fill','none').attr('stroke',c).attr('stroke-width',2);
 hull(aNeg,BLUE);hull(aPos.slice(1).concat([[-.6,-1.8]]),RED);
 dots(aNaive,x,y,4.4,'#6b2410');dots(aNeg,x,y,4.2,BLUE);dots(aPos,x,y,4.4,RED);dots(aPB,x,y,4.2,'#128a45');
 lab(1,500,53,'RNA-seq',{fs:25.5,anchor:'middle'});
 lab(1,525,765,'PC1 51.1%',{fs:23.5,anchor:'middle'});
 lab(1,58,340,'PC2 17.6%',{fs:23,anchor:'middle',rot:-90});
 lab(1,373,212,'Naive',{fs:22.5,fill:BROWN});lab(1,693,277,'PBs',{fs:22,fill:GREEN});
 lab(1,272,360,'H1+',{fs:21,fill:BLUE});lab(1,198,432,'FcRL5^{neg}',{fs:21,fill:BLUE});
 lab(1,513,520,'H1^{+}',{fs:21,fill:RED});lab(1,460,584,'FcRL5^{+}',{fs:21,fill:RED});}
// ---------- B ----------
{const x=d3.scaleLinear([-9.18,9.17],[51,274.3]),y=d3.scaleLinear([-9.1,9.13],[571.4,349]);
 box(51,349,274.3,571.4);
 axX(x,571.4,[-5,0,5],{fs:19,base:30});
 axY(y,51,[-5,0,5],{fs:19,rot:true,base:11});
 const cols=[BLUE,SALMON,GREEN,RED];
 bEllipses.forEach((e,i)=>svg.append('ellipse').attr('transform',`translate(${x(e[0])},${y(e[1])}) rotate(${e[4]})`).attr('rx',x(e[2])-x(0)).attr('ry',x(e[3])-x(0)).attr('fill','none').attr('stroke',cols[i]).attr('stroke-width',i==3?1.6:2));
 dots(bNeg,x,y,3.2,BLUE);dots(bPB,x,y,3.2,GREEN);dots(bH1neg,x,y,3.2,SALMON);dots(bPos,x,y,3,RED);
 lab(1,475,830,'ATAC-seq',{fs:26,anchor:'middle'});
 lab(1,482,1540,'PC1 51.7%',{fs:23.5,anchor:'middle'});
 lab(1,58,1115,'PC2 12.6%',{fs:23,anchor:'middle',rot:-90});
 lab(1,397,950,'H1^{neg}',{fs:19,fill:SALMON,bold:true});lab(1,368,1012,'FcRL5^{+}',{fs:19,fill:SALMON,bold:true});
 lab(1,633,1065,'PBs',{fs:21,fill:GREEN});lab(1,213,1087,'H1^{+}',{fs:19.5,fill:RED});lab(1,160,1150,'FcRL5^{+}',{fs:19.5,fill:RED});
 lab(1,168,1322,'H1^{+} FcRL5^{neg}',{fs:20,fill:BLUE});}
// ---------- C ----------
{const x=d3.scaleLinear([-15,15],[58.3,277.7]),y=d3.scaleLinear([-15,15],[899.2,681]);
 const xl=d3.scaleLinear([-15,15],[65,278.3]),yl=d3.scaleLinear([-15,15],[897,689]);
 seg(x(0),681,x(0),899.2,'#a0a0a0',2);seg(58.3,y(0),277.7,y(0),'#a0a0a0',2);
 box(58.3,681,277.7,899.2,'#555',1.6);
 axX(xl,899.2,[-15,-10,-5,0,5,10,15],{fs:18,base:20,size:0});
 axY(yl,58.3,[-15,-10,-5,0,5,10,15],{fs:18,rot:true,base:5,size:0});
 dots(cPos,x,y,3.6,RED);dots(cNeg,x,y,3.4,'#4a68b8');dots(cPB,x,y,3.4,'#119a4a');dots(cNaive,x,y,3.6,'#7a1515');
 lab(2,498,88,'Cell Cycle',{fs:26,anchor:'middle'});
 lab(2,483,793,'PC1   51.1%',{fs:25.5,anchor:'middle',fill:'#444'});
 lab(2,52,370,'PC2 12.0%',{fs:23.5,anchor:'middle',rot:-90,fill:'#333'});
 lab(2,582,222,'H1^{+}',{fs:21,fill:RED});lab(2,528,285,'FcRL5^{+}',{fs:21,fill:RED});
 lab(2,255,345,'H1^{+}',{fs:21,fill:BLUE});lab(2,175,417,'FcRL5^{neg}',{fs:21,fill:BLUE});
 lab(2,537,434,'PBs',{fs:22,fill:GREEN});lab(2,393,515,'Naive',{fs:22,fill:BROWN});}
// ---------- D E F ----------
const barColors=['#8f1d1d','#3554a8','#f0392b','#0b9444'];
function barPanel(c){
  const x=d3.scaleBand().domain(barCats).range(c.range).paddingInner(.32).paddingOuter(.16);
  const y=d3.scaleLinear([0,c.max],[c.y0,c.yTop]);
  const cx=i=>x(barCats[i])+x.bandwidth()/2;
  svg.append('g').selectAll('rect').data(c.means).join('rect').attr('x',(d,i)=>x(barCats[i])).attr('width',x.bandwidth()).attr('y',d=>y(d)).attr('height',d=>c.y0-y(d)).attr('fill',(d,i)=>barColors[i]).attr('stroke','#111').attr('stroke-width',1.5);
  c.err.forEach((e,i)=>{seg(cx(i),y(e[0]),cx(i),y(e[1]),'#111',1.3);seg(cx(i)-8.7,y(e[1]),cx(i)+8.7,y(e[1]),'#111',1.3);if(e[0]>0)seg(cx(i)-8.7,y(e[0]),cx(i)+8.7,y(e[0]),'#111',1.3);});
  c.dots.forEach((vals,i)=>svg.append('g').selectAll('circle').data(vals).join('circle').attr('cx',(v,j)=>cx(i)+c.jit[i][j]).attr('cy',v=>y(v)).attr('r',3.3).attr('fill','#fff').attr('stroke','#111').attr('stroke-width',1.2));
  seg(c.axX,c.y0,c.xEnd,c.y0,'#111',1.6);
  const yAxisScale=d3.scaleLinear([0,c.top],[c.y0,c.axTop]);
  axY(yAxisScale,c.axX,c.ticks,{fs:21,size:4,pad:2,domain:true});
  barCats.forEach((b,i)=>txt(cx(i)+13,c.y0+11,b,{fs:24,anchor:'end',rot:-45}));
  lab(c.z,c.title[0],c.title[1],c.titleText,{fs:23,italic:true,anchor:'middle'});
  lab(c.z,c.ylab[0],c.ylab[1],'RPKM',{fs:24,anchor:'middle',rot:-90});
  c.sig.forEach(s=>{zseg(c.z,s[0],s[2],s[1],s[2],'#111',1.4);
    if(s[3]==='ns')lab(c.z,s[4],s[5],'ns',{fs:24,anchor:'middle'});
    else lab(c.z,s[4],s[5],s[3],{fs:38,bold:true,anchor:'middle'});});
}
barPanel({z:2,range:[95.2,301.5],max:200,top:200,y0:1173.9,yTop:1025.7,axTop:1025.7,axX:86.7,xEnd:310,ticks:[0,50,100,150,200],means:dMeans,err:dErr,dots:dDots,
 jit:[[-8,-4,-1,3,3.7,9],[-12,-7,0,0,6.5,13],[-12.5,-6,0,0,6,13],[-4,-4,0,0,8.7,4.3]],title:[585,925],titleText:'PRDM1',ylab:[105,1115],
 sig:[[661,803,976,'*',736,995],[352,638,1122,'ns',499,1112],[510,652,1180,'ns',585,1165]]});
barPanel({z:3,range:[101,306.7],max:1500,top:1500,y0:1489.4,yTop:1340.4,axTop:1340.4,axX:91.7,xEnd:310,ticks:[0,500,1000,1500],means:eMeans,err:eErr,dots:eDots,
 jit:[[-9,-3.3,-3,4,8.3,-9],[-9,-5,-1.7,-1.7,4,8.3],[-13,-7.3,0,0,6,12.7],[-4.3,-8,0,0,4.7,9]],title:[605,135],titleText:'XBP1',ylab:[93,335],
 sig:[[688,830,193,'**',741,210],[385,670,360,'ns',531,353],[542,684,418,'ns',617,405]]});
barPanel({z:3,range:[94.3,299.7],max:150,top:174,y0:1801.6,yTop:1674.7,axTop:1653.5,axX:86,xEnd:308,ticks:[0,50,100,150],means:fMeans,err:fErr,dots:fDots,
 jit:[[-13.3,-8.3,0,0,9.3,13.3],[-13,-5,-4.3,3.3,1.7,12.7],[-13,-6.7,0,0,7.3,13],[4.3,0,-9,9,0]],title:[580,895],titleText:'IRF4',ylab:[122,1105],
 sig:[[665,806,935,'*',729,950],[362,647,1111,'ns',509,1103],[519,662,1168,'ns',595,1155]]});
// ---------- G ----------
{const x=d3.scaleLinear([0,15],[501.2,698.2]);
 const y=d3.scaleBand().domain(gCats).range([112.8,247.8]).paddingInner(.15).paddingOuter(.08);
 const c=['#3554a8',RED,'#f58a8f',GREEN];
 const jit=[[-1,2,5,0,5,0,4],[0,0,0],[0,0,0],[0,0,5,0,5]];
 gMeans.forEach((m,i)=>{const yc=y(gCats[i])+y.bandwidth()/2;
   svg.append('rect').datum(m).attr('x',x(0)).attr('y',y(gCats[i])).attr('width',x(m)-x(0)).attr('height',y.bandwidth()).attr('fill','none').attr('stroke',c[i]).attr('stroke-width',2.2);
   seg(x(m),yc,x(gEnds[i]),yc,c[i],1.8);seg(x(gEnds[i]),yc-7,x(gEnds[i]),yc+7,c[i],1.8);
   svg.append('g').selectAll('circle').data(gDots[i]).join('circle').attr('cx',d=>x(d)).attr('cy',(d,j)=>yc+jit[i][j]).attr('r',3.6).attr('fill',c[i]);});
 const g=svg.append('g').attr('transform','translate(0,108.3)').call(d3.axisTop(x).tickValues([0,5,10,15]).tickSize(14.5).tickFormat(''));
 g.selectAll('line,path').attr('stroke','#111').attr('stroke-width',1.8);
 [0,5,10,15].forEach((d,i)=>txt([503,566,632,694][i],85,String(d),{fs:23,anchor:'middle'}));
 const pos=[[500,365],[480,455],[495,545],[478,627]];
 gCats.forEach((t,i)=>lab(4,pos[i][0],pos[i][1],t,{fs:24,anchor:'end'}));
 lab(4,290,182,'Shaffer IRF4',{fs:24,anchor:'middle'});lab(4,290,250,'UP in PCs',{fs:24,anchor:'middle'});
 lab(4,805,148,'RPPM',{fs:23.5,anchor:'middle'});
 zseg(4,849,322,849,422,'#111',1.6);zseg(4,887,412,887,510,'#111',1.6);
 lab(4,865,370,'ns',{fs:23});lab(4,910,482,'ns',{fs:23});
 svg.append('path').attr('d',d3.line()([[zx(4,972),zy(4,398)],[zx(4,1183),zy(4,398)],[zx(4,1183),zy(4,577)],[zx(4,1140),zy(4,577)]])).attr('fill','none').attr('stroke','#111').attr('stroke-width',1.4);
 lab(4,1160,484,'****',{fs:40,bold:true,anchor:'middle',rot:90});}
// ---------- H ----------
{const x=d3.scaleLinear([0,100],[405.2,829.1]),y=d3.scaleLinear([-.2,.4],[499.4,380.8]);
 seg(x(0),y(0),x(100),y(0),'#111',1.6);
 seg(x(26.4),y(0),x(26.4),y(.321),'#555',1.8);
 svg.append('path').datum(hCurve).attr('d',d3.line().x(d=>x(d[0])).y(d=>y(d[1]))).attr('fill','none').attr('stroke','#555').attr('stroke-width',2.2);
 axY(y,405.2,[-.2,0,.2,.4],{fs:20.5,size:9,pad:2,domain:true,sw:1.8,color:'#333'});
 axY(y,405.2,[-.1,.1,.3],{fs:0.01,size:4,fmt:()=>'',sw:1.5,color:'#333'});
 svg.append('g').selectAll('line').data(hRug).join('line').attr('x1',d=>x(d)).attr('x2',d=>x(d)).attr('y1',528.9).attr('y2',554.9).attr('stroke','#555').attr('stroke-width',1.5);
 tri(604.8,515.9,14,11);
 lab(4,832,895,'Schaffer: IRF4 Targets PC > B Cell',{fs:23.4,bold:true,fill:'#5a5a5a',anchor:'middle'});
 lab(4,1058,980,'p_{nom} = 0.5872',{fs:20.5});
 lab(4,100,1160,'ES',{fs:23,anchor:'middle',rot:-90});
 lab(4,180,1512,'Up in D7 FcRL5^{+}',{fs:19.5,fill:RED});
 lab(4,647,1505,'Rank in Gene List',{fs:18.4});
 lab(4,1102,1510,'Up in D7 FcRL5^{neg}',{fs:19.5,fill:BLUE});}
// ---------- I ----------
{const x=d3.scaleLinear([-5.37,5.4],[417.7,724.7]),y=d3.scaleLinear([-7.55,7.55],[919,644.3]);
 dots(iPoints,x,y,3.2,'#000');
 seg(x(0),644.3,x(0),919,'#2f4aa8',2,'5 3');seg(417.7,y(0),724.7,y(0),'#2f4aa8',2,'5 3');
 box(417.7,644.3,724.7,919);
 axX(x,919,[-4,-2,0,2,4],{fs:22,base:21,size:5});
 axY(y,417.7,[-6,-4,-2,0,2,4,6],{fs:22,rot:true,base:13.4,size:5});
 const pos=[[985,295],[652,345],[838,342],[1022,355],[745,388],[1022,405],[906,490],[355,593],[498,660],[635,692],[420,732],[695,757],[662,815],[385,842],[507,898]];
 iGenes.forEach((g,i)=>lab(5,pos[i][0],pos[i][1],g,{fs:15.5,fill:RED}));
 lab(5,293,110,'H1 binding FcRL5^{+} over PB',{fs:26.5});
 lab(5,752,1098,'PageRank logFC',{fs:24.5,anchor:'middle'});
 lab(5,183,560,'RNAseq logFC',{fs:24.5,anchor:'middle',rot:-90});}
// ---------- J ----------
{const x=d3.scaleLinear([-4.825,4.84],[422.3,731.7]),y=d3.scaleLinear([-6.47,6.46],[1325.7,1049]);
 dots(jPoints,x,y,3.2,'#000');
 seg(x(.156),1049,x(.156),1325.7,'#2f4aa8',1.5,'6 4');seg(422.3,y(0),731.7,y(0),'#2f4aa8',1.5,'6 4');
 box(422.3,1049,731.7,1325.7);
 axX(x,1325.7,[-4,-2,0,2,4],{fs:22,base:23,size:5});
 axY(y,422.3,[-6,-4,-2,0,2,4,6],{fs:22,rot:true,base:12.3,size:5});
 zseg(6,665,316,860,350,'#aaa',1);
 const pos=[[556,330],[735,315],[843,335],[955,365],[1040,398],[963,428],[875,463],[1048,490],[370,678],[523,718],[278,767],[302,828],[468,865],[608,848],[277,898],[468,910],[604,898],[383,970]];
 jGenes.forEach((g,i)=>lab(6,pos[i][0],pos[i][1],g,{fs:14.8,fill:BLUE}));
 lab(6,233,122,'H1 binding FcRL5^{neg} over PB',{fs:26.5});
 lab(6,745,1110,'PageRank logFC',{fs:24.5,anchor:'middle'});
 lab(6,140,570,'RNAseq logFC',{fs:24.5,anchor:'middle',rot:-90});}
// ---------- K ----------
{const x=d3.scaleLinear([-4.364,5.546],[970.7,1345.6]),y=d3.scaleLinear([-3.73,6.105],[347.7,20.7]);
 const c=['#f2554f','#b5892a','#3da63a','#00b37d','#0da0e8','#6e55b0','#d83ea8'];
 kClusters.forEach((pts,i)=>dots(pts,x,y,1.75,c[i]));
 const zl=[[400,132,510,157],[342,343,415,412],[860,342,808,435],[955,885,900,838],[262,988,315,938]];
 zl.forEach(l=>zseg(7,l[0],l[1],l[2],l[3],'#ccc',1));
 seg(970.7,20.7,970.7,347.7,'#333',1.5);seg(970.7,347.7,1345.6,347.7,'#333',1.5);
 axX(x,347.7,[-2.5,0,2.5,5],{fs:11,base:14.5,size:3,fmt:d3.format('.1f'),color:'#333',sw:1,tc:'#333'});
 axY(y,970.7,[-2,0,2,4,6],{fs:11,size:3,pad:2,color:'#333',sw:1,tc:'#333'});
 lab(7,645,1122,'UMAP_1',{fs:11.8,anchor:'middle',fill:'#333'});
 lab(7,163,553,'UMAP_2',{fs:11.8,anchor:'middle',rot:-90,fill:'#333'});
 const big=[['3',382,152],['2',315,342],['4',868,332],['5',1024,334],['6',482,772],['1',975,907],['0',240,1027]];
 big.forEach(d=>lab(7,d[1],d[2],d[0],{fs:27,anchor:'middle'}));
 kNames.forEach((n,i)=>{const yy=zy(7,445+i*39);
   svg.append('circle').attr('cx',zx(7,1126)).attr('cy',yy).attr('r',3.2).attr('fill',c[i]);
   txt(zx(7,1152),yy+4.3,n,{fs:12,fill:'#333'});});}
// ---------- violins ----------
function violin(profile,cx,y,hw,col){
  svg.append('path').datum(profile).attr('d',d3.area().y(d=>y(d[0])).x0(d=>cx-d[1]*hw).x1(d=>cx+d[1]*hw).curve(d3.curveCatmullRom.alpha(.5))).attr('fill',col).attr('stroke','#666').attr('stroke-width',.7);
}
const vCols=['#f25c5c','#b58a2b','#4aa83f','#1ab886','#27a3e3'];
// ---------- L ----------
{const x=d3.scaleLinear([0,4],[995.7,1276]),y=d3.scaleLinear([0,15],[615.7,434.6]);
 clusterCats.forEach(i=>violin(lViolins[i],x(i),y,31.7,vCols[i]));
 clusterCats.forEach(i=>{
  svg.append('g').selectAll('rect').data(lRed[i]).join('rect').attr('x',d=>x(i+d[0])-.9).attr('y',d=>y(d[1])-.9).attr('width',1.8).attr('height',1.8).attr('fill','#f01c24');
  svg.append('g').selectAll('rect').data(lBlack[i]).join('rect').attr('x',d=>x(i+d[0])-.9).attr('y',d=>y(d[1])-.9).attr('width',1.8).attr('height',1.8).attr('fill','#000');});
 seg(953.3,387.9,953.3,626.4,'#888',1.4);seg(953.3,626.4,1312.7,626.4,'#888',1.4);
 axX(x,626.4,clusterCats,{fs:17.5,base:19,size:3,color:'#888'});
 axY(y,953.3,[0,5,10,15],{fs:17.5,size:3,pad:1,color:'#888'});
 lab(8,130,375,'Mutation rate',{fs:21,anchor:'middle',rot:-90});
 lab(8,805,808,'Cluster',{fs:21.5,anchor:'middle'});
 svg.append('circle').attr('cx',zx(8,1288)).attr('cy',zy(8,45)).attr('r',3.5).attr('fill',RED);
 svg.append('circle').attr('cx',zx(8,1288)).attr('cy',zy(8,106)).attr('r',3.5).attr('fill','#000');
 lab(8,1310,65,'IgM',{fs:21});lab(8,1310,122,'non-IgM',{fs:21});}
// ---------- M ----------
{const x=d3.scaleBand().domain(clusterCats).range([970.9,1344.7]).paddingInner(.367).paddingOuter(.183),y=d3.scaleLinear([0,40],[905.7,705.7]);
 const c=['#8c8f35','#8c8f35','#0a9444','#008f94','#4a8acb'];
 svg.append('g').selectAll('rect').data(mValues).join('rect').attr('x',(d,i)=>x(i)).attr('width',x.bandwidth()).attr('y',d=>y(d)).attr('height',d=>905.7-y(d)).attr('fill',(d,i)=>c[i]);
 seg(958.7,705.7,958.7,905.7,'#ccc',1.6);seg(950,905.7,1356.7,905.7,'#ccc',1.6);
 axX(x,905.7,clusterCats,{fs:16,base:24,size:4,color:'#ccc'});
 axY(y,958.7,[0,10,20,30,40],{fs:16,size:7,pad:3,color:'#ccc'});
 txt(892,797,'% Cells with *{TBX21}',{fs:23,anchor:'middle',rot:-90});
 txt(922.7,796,'Transcript',{fs:23,anchor:'middle',rot:-90});
 txt(1148,948,'Cluster',{fs:21.5,anchor:'middle'});}
// ---------- N ----------
{const x=d3.scaleLinear([0,4],[1017.7,1278.7]),y=d3.scaleLinear([0,1.5],[1252,1068.3]);
 clusterCats.forEach(i=>violin(nViolins[i],x(i),y,29.3,vCols[i]));
 seg(979,1027.3,979,1262.7,'#777',1.4);seg(979,1262.7,1313.3,1262.7,'#777',1.4);
 axX(x,1262.7,clusterCats,{fs:17,base:20,size:3,color:'#777'});
 axY(y,979,[0,.5,1,1.5],{fs:17,size:3,pad:2,color:'#777',fmt:d=>d===0?'0':d3.format('.1f')(d)});
 lab(9,902,95,'FcRL5 Protein',{fs:23.7,anchor:'middle'});
 zseg(9,407,186,1207,186,'#111',1.6);zseg(9,398,272,970,272,'#111',1.6);zseg(9,998,256,1198,256,'#111',1.6);
 lab(9,773,205,'***',{fs:42,bold:true,anchor:'middle'});lab(9,712,298,'****',{fs:44,bold:true,anchor:'middle'});
 lab(9,1098,238,'ns',{fs:24,anchor:'middle'});
 lab(9,183,585,'Expression Level',{fs:22,anchor:'middle',rot:-90});
 lab(9,805,1073,'Cluster',{fs:22,anchor:'middle'});}
// ---------- GSEA ----------
function gsea(c){
  const z=c.z,x=d3.scaleLinear([0,100],[zx(z,c.xr[0]),zx(z,c.xr[1])]),y=d3.scaleLinear(c.dom,[zy(z,c.zy[0]),zy(z,c.zy[1])]);
  seg(x(0),y(0),x(100),y(0),'#888',1.5);
  const peakY=c.curve.reduce((a,d)=>Math.abs(d[0]-c.peak)<Math.abs(a[0]-c.peak)?d:a)[1];
  seg(x(c.peak),y(0),x(c.peak),y(peakY),'#888',1);
  svg.append('path').datum(c.curve).attr('d',d3.line().x(d=>x(d[0])).y(d=>y(d[1]))).attr('fill','none').attr('stroke','#555').attr('stroke-width',1.9);
  axY(y,x(0),c.ticks,{fs:15.5,size:3.5,pad:zx(z,c.xr[0])-zx(z,c.tickR)-3.5,domain:true,color:'#666',sw:1.1,tc:'#333'});
  svg.append('g').selectAll('line').data(c.rug).join('line').attr('x1',d=>x(d)).attr('x2',d=>x(d)).attr('y1',zy(z,c.rugZ[0])).attr('y2',zy(z,c.rugZ[1])).attr('stroke','#888').attr('stroke-width',1);
  tri(zx(z,c.tri[0]),zy(z,c.tri[1]),5,4.5);
  lab(z,c.title[0],c.title[1],c.titleText,{fs:14.3,bold:true,fill:'#666',anchor:'middle'});
  lab(z,c.stats[0][0],c.stats[0][1],c.statText[0],{fs:15,fill:GRAY});
  lab(z,c.stats[1][0],c.stats[1][1],c.statText[1],{fs:15,fill:GRAY});
  lab(z,c.stats[2][0],c.stats[2][1],c.statText[2],{fs:15,fill:GRAY});
  lab(z,c.red[0],c.red[1],'Up in D7 FcRL5^{+}',{fs:14,fill:RED});
  lab(z,c.rank[0],c.rank[1],'Rank in Gene List',{fs:17});
  if(!c.noBlue)lab(z,c.blue[0],c.blue[1],'Up in D7 FcRL5^{neg}',{fs:14,fill:BLUE});
  lab(z,c.es[0],c.es[1],'E.S.',{fs:16.5,anchor:'middle',rot:-90});
}
gsea({z:10,xr:[210,925],dom:[-.1,.7],zy:[332,63],ticks:[0,.2,.4,.6],curve:o1Curve,peak:22.1,rug:o1Rug,rugZ:[367,410],tri:[547,345],tickR:197,title:[613,92],titleText:'Cluster 0 DOWN',stats:[[955,253],[955,308],[955,358]],statText:['p~{nom}  < 0.001','FDR < 0.001','NES = 1.74'],red:[-40,460],rank:[298,470],blue:[755,460],es:[118,178]});
gsea({z:10,xr:[178,890],dom:[-.212,.618],zy:[755,485],ticks:[-.2,0,.2,.4,.6],curve:o2Curve,peak:9.4,rug:o2Rug,rugZ:[788,832],tri:[515,767],tickR:168,title:[610,520],titleText:'Cluster 2 DOWN',stats:[[922,672],[922,730],[922,780]],statText:['p~{nom}  = 0.075','FDR = 0.043','NES = 1.38'],red:[32,883],rank:[413,902],blue:[840,885],es:[75,600]});
gsea({z:12,xr:[128,580],dom:[-.098,.695],zy:[333,65],ticks:[0,.2,.4,.6],curve:o3Curve,peak:19.2,rug:o3Rug,rugZ:[367,411],tri:[343,346],tickR:122,title:[358,82],titleText:'Cluster 3 UP',stats:[[600,253],[600,310],[600,360]],statText:['p~{nom}  < 0.001','FDR < 0.001','NES = 2.11'],red:[50,462],rank:[262,460],blue:[535,463],es:[68,205]});
gsea({z:12,xr:[128,530],dom:[-.1,.6875],zy:[742,515],ticks:[0,.2,.4,.6],curve:o4Curve,peak:12.9,rug:o4Rug,rugZ:[772,812],tri:[318,753],tickR:122,title:[380,548],titleText:'Cluster 4 UP',stats:[[545,672],[548,725],[548,770]],statText:['p~{nom}  = 0.003','FDR = 0.004','NES = 1.68'],red:[18,860],rank:[233,862],blue:[515,865],es:[70,620]});
gsea({z:11,xr:[228,945],dom:[-.6,.1],zy:[318,83],ticks:[-.6,-.4,-.2,0],curve:p1Curve,peak:93.7,rug:p1Rug,rugZ:[350,396],tri:[563,331],tickR:213,title:[648,80],titleText:'Cluster 0 UP',stats:[[958,235],[972,295],[972,345]],statText:['p~{nom}  < 0.001','FDR < 0.001','NES = -2.01'],red:[30,465],rank:[460,470],blue:[892,465],es:[118,200]});
gsea({z:11,xr:[220,935],dom:[-.8,.098],zy:[817,515],ticks:[-.8,-.6,-.4,-.2,0],curve:p2Curve,peak:91.9,rug:p2Rug,rugZ:[850,895],tri:[557,828],tickR:205,title:[615,530],titleText:'Cluster 2 UP',stats:[[955,733],[965,793],[965,843]],statText:['p~{nom}  = 0.050','FDR = 0.025','NES = -1.52'],red:[82,935],rank:[415,938],noBlue:true,es:[105,685]});
lab(11,865,932,'Up in D7 FcRL5',{fs:14,fill:BLUE});lab(11,1160,897,'neg',{fs:10,fill:BLUE});
gsea({z:12,xr:[922,1377],dom:[-.6,.104],zy:[322,85],ticks:[-.6,-.4,-.2,0],curve:p3Curve,peak:82.6,rug:p3Rug,rugZ:[355,400],tri:[1135,335],tickR:915,title:[1142,102],titleText:'Cluster 3 DOWN',stats:[[1393,243],[1393,298],[1393,345]],statText:['p~{nom}  < 0.001','FDR < 0.001','NES = -2.05'],red:[797,458],rank:[1018,450],blue:[1293,458],es:[850,200]});
gsea({z:12,xr:[917,1372],dom:[-.406,.26],zy:[775,550],ticks:[-.4,-.2,0,.2],curve:p4Curve,peak:85.7,rug:p4Rug,rugZ:[808,852],tri:[1130,785],tickR:910,title:[1180,558],titleText:'Cluster 4 DOWN',stats:[[1382,692],[1390,753],[1390,803]],statText:['p~{nom}  = 0.014','FDR = 0.078','NES = -1.34'],red:[830,898],rank:[1038,902],blue:[1327,900],es:[850,650]});
</script></body></html>
